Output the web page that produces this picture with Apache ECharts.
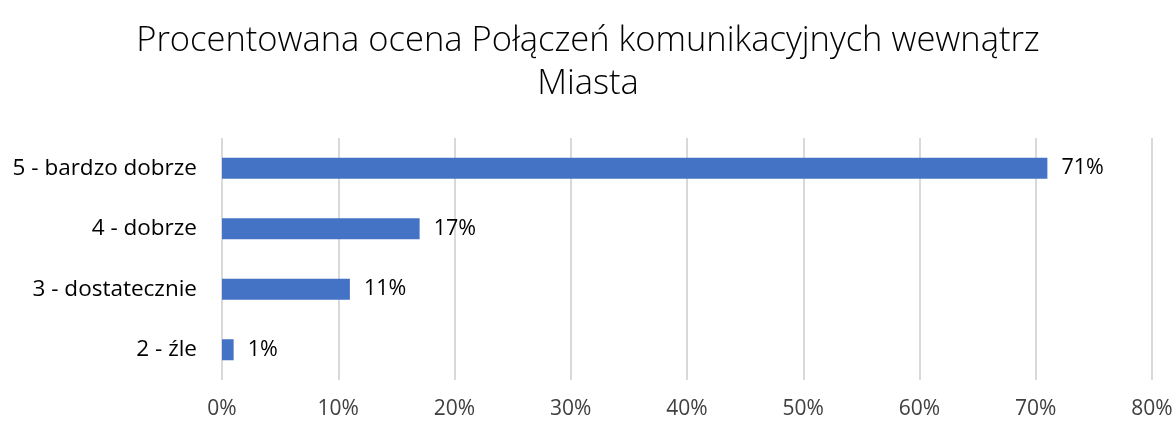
<!DOCTYPE html>
<html>
<head>
<meta charset="utf-8">
<script src="https://cdn.jsdelivr.net/npm/echarts@6/dist/echarts.min.js"></script>
<style>
  html, body { margin: 0; padding: 0; background: #fff; }
  #chart { width: 1176px; height: 425px; }
</style>
</head>
<body>
<div id="chart"></div>
<script>
// dane wykresu
const categories = ['2 - źle', '3 - dostatecznie', '4 - dobrze', '5 - bardzo dobrze']
const values = [1, 11, 17, 71]
const titleText = 'Procentowana ocena Połączeń komunikacyjnych wewnątrz\nMiasta'

const font = "'Open Sans', 'Noto Sans', sans-serif"
let myChart = echarts.init(document.getElementById('chart'))
myChart.setOption({
  animation: false,
  title: {
    text: titleText,
    left: 'center',
    top: 15,
    textStyle: {
      fontFamily: font,
      fontWeight: 300,
      fontSize: 34.5,
      lineHeight: 43,
      color: '#000'
    }
  },
  grid: {
    left: 222,
    right: 24,
    top: 138,
    bottom: 45
  },
  xAxis: {
    type: 'value',
    min: 0,
    max: 80,
    interval: 10,
    axisLine: { show: false },
    axisTick: { show: false },
    splitLine: { lineStyle: { color: '#d9d9d9', width: 2 } },
    axisLabel: {
      margin: 19,
      fontFamily: font,
      fontSize: 21,
      color: '#404040',
      formatter: '{value}%'
    }
  },
  yAxis: {
    type: 'category',
    data: categories,
    axisLine: { show: false },
    axisTick: { show: false },
    axisLabel: {
      margin: 25,
      fontFamily: font,
      fontSize: 22.5,
      color: '#000'
    }
  },
  series: [
    {
      type: 'bar',
      data: values,
      barWidth: 21,
      itemStyle: { color: '#4472c4' },
      label: {
        show: true,
        position: 'right',
        distance: 14,
        fontFamily: font,
        fontSize: 21.5,
        color: '#000',
        formatter: '{c}%'
      }
    }
  ]
})
</script>
</body>
</html>
